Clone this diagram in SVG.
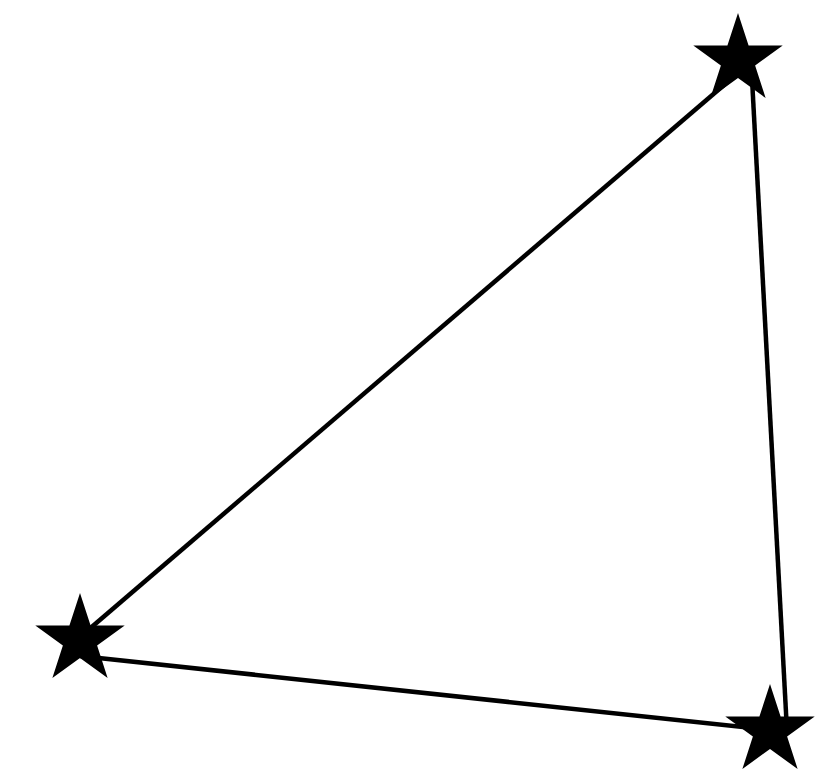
<svg xmlns="http://www.w3.org/2000/svg" xmlns:xlink="http://www.w3.org/1999/xlink" width="840" height="774" viewBox="0 0 840 774">
<style>
.edge{stroke:#000;stroke-width:4.5;fill:none}
.star{fill:#000;stroke:none}
</style>
<defs>
<polygon id="star" class="star" points="0,-47 10.58,-14.56 44.70,-14.52 17.12,5.56 27.63,38.02 0,18 -27.63,38.02 -17.12,5.56 -44.70,-14.52 -10.58,-14.56"/>
</defs>
<rect width="840" height="774" fill="#fff"/>
<g id="connectors">
<line class="edge" x1="80" y1="637" x2="738" y2="73"/>
<line class="edge" x1="80" y1="656" x2="770" y2="730"/>
<line class="edge" x1="751" y1="60" x2="787" y2="731"/>
</g>
<g id="node1"><use xlink:href="#star" href="#star" transform="translate(738,60)"/></g>
<g id="node2"><use xlink:href="#star" href="#star" transform="translate(80,640)"/></g>
<g id="node3"><use xlink:href="#star" href="#star" transform="translate(770,731)"/></g>
</svg>
